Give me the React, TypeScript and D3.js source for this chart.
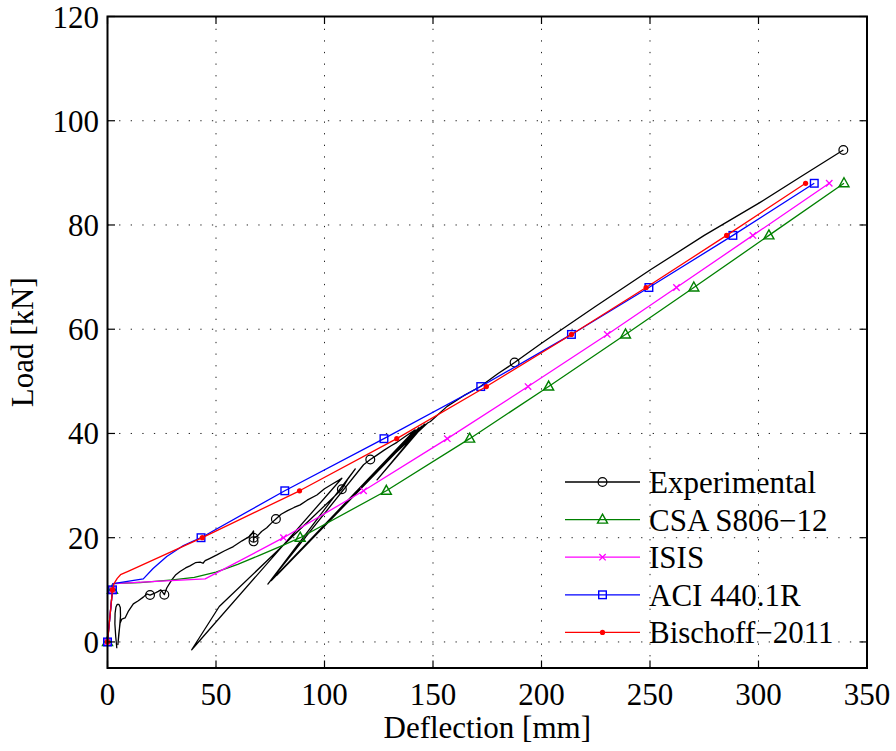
import React from 'react';
import * as d3 from 'd3';

// tick labels
const xTicks = [0, 50, 100, 150, 200, 250, 300, 350];
const yTicks = [0, 20, 40, 60, 80, 100, 120];

// Experimental curve (with unload / reload cycles)
const expDefl = [4.3, 3.8, 3.4, 3.5, 3.9, 4.5, 5.3, 5.9, 6.0, 5.5, 4.8, 5.2, 5.8, 6.6, 8.1, 9.5, 11.9, 14.2, 16.5, 18.1, 19.6, 21.5, 23.4, 24.6, 26.2, 27.3, 29.6, 31.5, 33.4, 36, 38, 40.5, 42.7, 44, 45, 47, 50.4, 54, 58, 62, 65.7, 66.5, 67.3, 67.3, 67.5, 69, 71, 73.4, 75.5, 77.6, 80, 83, 86, 88.8, 92, 96.5, 100, 104, 106.5, 108, 38.8, 51.5, 108, 111, 114.2, 73.9, 118, 121.1, 124, 127.5, 130.5, 133.4, 137.5, 141.8, 75.5, 143.5, 78, 144.8, 124.2, 146.2, 130, 147.5, 148.8, 152, 156.5, 164, 171.8, 180, 187.6, 200, 225, 250.2, 275, 300.2, 320, 339.1];
const expLoad = [-1.2, 1, 3.5, 5.5, 6.7, 7.2, 7.2, 6.6, 5.0, 2.5, -0.5, 1.5, 3.6, 4.4, 4.6, 5.8, 7.3, 7.9, 8.6, 9.2, 9.0, 9.3, 9.7, 10, 9.07, 10.35, 11.9, 12.9, 13.5, 14.2, 14.6, 15.2, 15.3, 15.1, 15.6, 16.0, 16.7, 17.5, 18.3, 19.4, 20.3, 20.8, 21.3, 19.3, 20.0, 20.3, 21.2, 21.9, 22.8, 23.6, 24.5, 25.2, 25.8, 26.3, 27.2, 28.2, 29.4, 30.4, 31.0, 31.4, -1.5, 6.8, 29.3, 31.4, 33.2, 11.1, 34, 35.0, 35.8, 36.8, 37.6, 38.3, 39.5, 40.7, 11.8, 41.1, 12.8, 41.4, 31.1, 41.8, 35.2, 42, 42.3, 43.5, 45.2, 47.2, 49.0, 51.5, 53.6, 57.3, 64.4, 71.4, 78, 84.2, 89.4, 94.4];
const expMarkDefl = [19.6, 26.2, 67.3, 67.3, 77.6, 108, 121.1, 187.6, 339.1];
const expMarkLoad = [9.0, 9.07, 19.3, 20.0, 23.6, 29.3, 35.0, 53.6, 94.4];

// CSA S806-12
const csaDefl = [0, 2.3, 2.6, 15, 30, 40, 50, 60, 70, 80, 88.8, 128.5, 166.9, 203.3, 238.7, 270.2, 304.8, 339.4];
const csaLoad = [0, 10, 11.2, 11.4, 11.9, 12.4, 13.4, 14.9, 16.6, 18.4, 20, 29, 39, 49, 59, 68, 78, 88];
const csaMarks = [0, 1, 10, 11, 12, 13, 14, 15, 16, 17];

// ISIS
const isisDefl = [0, 2.3, 2.6, 45, 81.1, 118.0, 156.6, 193.8, 230.3, 262.2, 297.4, 332.6];
const isisLoad = [0, 10, 11.2, 12.1, 20, 29, 39, 49, 59, 68, 78, 88];
const isisMarks = [0, 1, 4, 5, 6, 7, 8, 9, 10, 11];

// ACI 440.1R
const aciDefl = [0, 2.3, 2.6, 16.5, 21, 27.3, 35, 43.1, 81.7, 127.4, 172, 213.8, 249.5, 288.2, 325.7];
const aciLoad = [0, 10, 11.2, 12.1, 14.1, 16.4, 18.5, 20, 29, 39, 49, 59, 68, 78, 88];
const aciMarks = [0, 1, 7, 8, 9, 10, 11, 12, 13, 14];

// Bischoff-2011
const bisDefl = [0, 2.3, 3, 4.5, 6, 10, 43.7, 88.5, 133.3, 174.6, 213.8, 248.2, 285.3, 321.7];
const bisLoad = [0, 10, 11.2, 12.2, 12.9, 13.65, 20, 29, 39, 49, 59, 68, 78, 88];
const bisMarks = [0, 1, 6, 7, 8, 9, 10, 11, 12, 13];

const legendNames = ['Experimental', 'CSA S806\u221212', 'ISIS', 'ACI 440.1R', 'Bischoff\u22122011'];
const legendColors = ['#000000', '#008000', '#ff00ff', '#0000ff', '#ff0000'];
const legendMarkers = ['circle', 'triangle', 'x', 'square', 'dot'];

const W = 896;
const H = 751;
const FONT = '"Liberation Serif", "Times New Roman", serif';

function Marker({ kind, x, y, color }: { kind: string; x: number; y: number; color: string }) {
  if (kind === 'circle') return <circle cx={x} cy={y} r={4.4} fill="none" stroke={color} strokeWidth={1.2} />;
  if (kind === 'square') return <rect x={x - 3.8} y={y - 3.8} width={7.6} height={7.6} fill="none" stroke={color} strokeWidth={1.4} />;
  if (kind === 'dot') return <circle cx={x} cy={y} r={2.6} fill={color} />;
  if (kind === 'x')
    return (
      <path d={`M${x - 3.2},${y - 3.2}L${x + 3.2},${y + 3.2}M${x - 3.2},${y + 3.2}L${x + 3.2},${y - 3.2}`} stroke={color} strokeWidth={1.3} />
    );
  // triangle
  return <path d={`M${x},${y - 5.5}L${x + 5},${y + 3.5}L${x - 5},${y + 3.5}Z`} fill="none" stroke={color} strokeWidth={1.4} />;
}

export default function App() {
  const x = d3.scaleLinear().domain([0, 350]).range([107.5, 867]);
  const y = d3.scaleLinear().domain([-5, 120]).range([668, 16.5]);
  const [x0, x1] = x.range();
  const [y0, y1] = y.range();

  const line = d3
    .line<[number, number]>()
    .x((d) => x(d[0]))
    .y((d) => y(d[1]));
  const zip = (a: number[], b: number[]) => a.map((v, i) => [v, b[i]] as [number, number]);

  const series = [
    { defl: csaDefl, load: csaLoad, marks: csaMarks, color: '#008000', kind: 'triangle' },
    { defl: isisDefl, load: isisLoad, marks: isisMarks, color: '#ff00ff', kind: 'x' },
    { defl: aciDefl, load: aciLoad, marks: aciMarks, color: '#0000ff', kind: 'square' },
    { defl: bisDefl, load: bisLoad, marks: bisMarks, color: '#ff0000', kind: 'dot' },
  ];

  const tickLen = 7.5;
  const gridDash = '1.3 10.3';

  return (
    <svg width={W} height={H} style={{ position: 'absolute', left: 0, top: 0, background: '#fff' }} fontFamily={FONT}>
      <rect x={0} y={0} width={W} height={H} fill="#fff" />
      {/* grid */}
      {xTicks.slice(1, -1).map((t) => (
        <line key={'gx' + t} x1={x(t)} x2={x(t)} y1={y0} y2={y1} stroke="#222" strokeWidth={1} strokeDasharray={gridDash} />
      ))}
      {yTicks.slice(0, -1).map((t) => (
        <line key={'gy' + t} x1={x0} x2={x1} y1={y(t)} y2={y(t)} stroke="#222" strokeWidth={1} strokeDasharray={gridDash} />
      ))}

      {/* experimental */}
      <path d={line(zip(expDefl, expLoad)) || ''} fill="none" stroke="#000" strokeWidth={1.3} strokeLinejoin="round" />
      {expMarkDefl.map((d, i) => (
        <Marker key={'em' + i} kind="circle" x={x(d)} y={y(expMarkLoad[i])} color="#000" />
      ))}

      {/* models */}
      {series.map((s, si) => (
        <g key={'s' + si}>
          <path d={line(zip(s.defl, s.load)) || ''} fill="none" stroke={s.color} strokeWidth={1.3} strokeLinejoin="round" />
          {s.marks.map((m) => (
            <Marker key={m} kind={s.kind} x={x(s.defl[m])} y={y(s.load[m])} color={s.color} />
          ))}
        </g>
      ))}

      {/* axes box */}
      <rect x={x0} y={y1} width={x1 - x0} height={y0 - y1} fill="none" stroke="#000" strokeWidth={2} />
      {xTicks.map((t) => (
        <g key={'tx' + t}>
          <line x1={x(t)} x2={x(t)} y1={y0} y2={y0 - tickLen} stroke="#000" strokeWidth={1.2} />
          <line x1={x(t)} x2={x(t)} y1={y1} y2={y1 + tickLen} stroke="#000" strokeWidth={1.2} />
          <text x={x(t)} y={705} textAnchor="middle" fontSize={31} fill="#000">
            {t}
          </text>
        </g>
      ))}
      {yTicks.map((t) => (
        <g key={'ty' + t}>
          <line x1={x0} x2={x0 + tickLen} y1={y(t)} y2={y(t)} stroke="#000" strokeWidth={1.2} />
          <line x1={x1} x2={x1 - tickLen} y1={y(t)} y2={y(t)} stroke="#000" strokeWidth={1.2} />
          <text x={99} y={y(t) + 11} textAnchor="end" fontSize={31} fill="#000">
            {t}
          </text>
        </g>
      ))}

      {/* axis labels */}
      <text x={(x0 + x1) / 2} y={738} textAnchor="middle" fontSize={31} fill="#000">
        Deflection [mm]
      </text>
      <text transform={`translate(33,${(y0 + y1) / 2}) rotate(-90)`} textAnchor="middle" fontSize={31} fill="#000">
        Load [kN]
      </text>

      {/* legend */}
      {legendNames.map((name, i) => {
        const ly = 482 + i * 37.6;
        return (
          <g key={name}>
            <line x1={565} x2={640} y1={ly} y2={ly} stroke={legendColors[i]} strokeWidth={1.3} />
            <Marker kind={legendMarkers[i]} x={602.5} y={ly} color={legendColors[i]} />
            <text x={649} y={ly + 11} fontSize={31} fill="#000">
              {name}
            </text>
          </g>
        );
      })}
    </svg>
  );
}
